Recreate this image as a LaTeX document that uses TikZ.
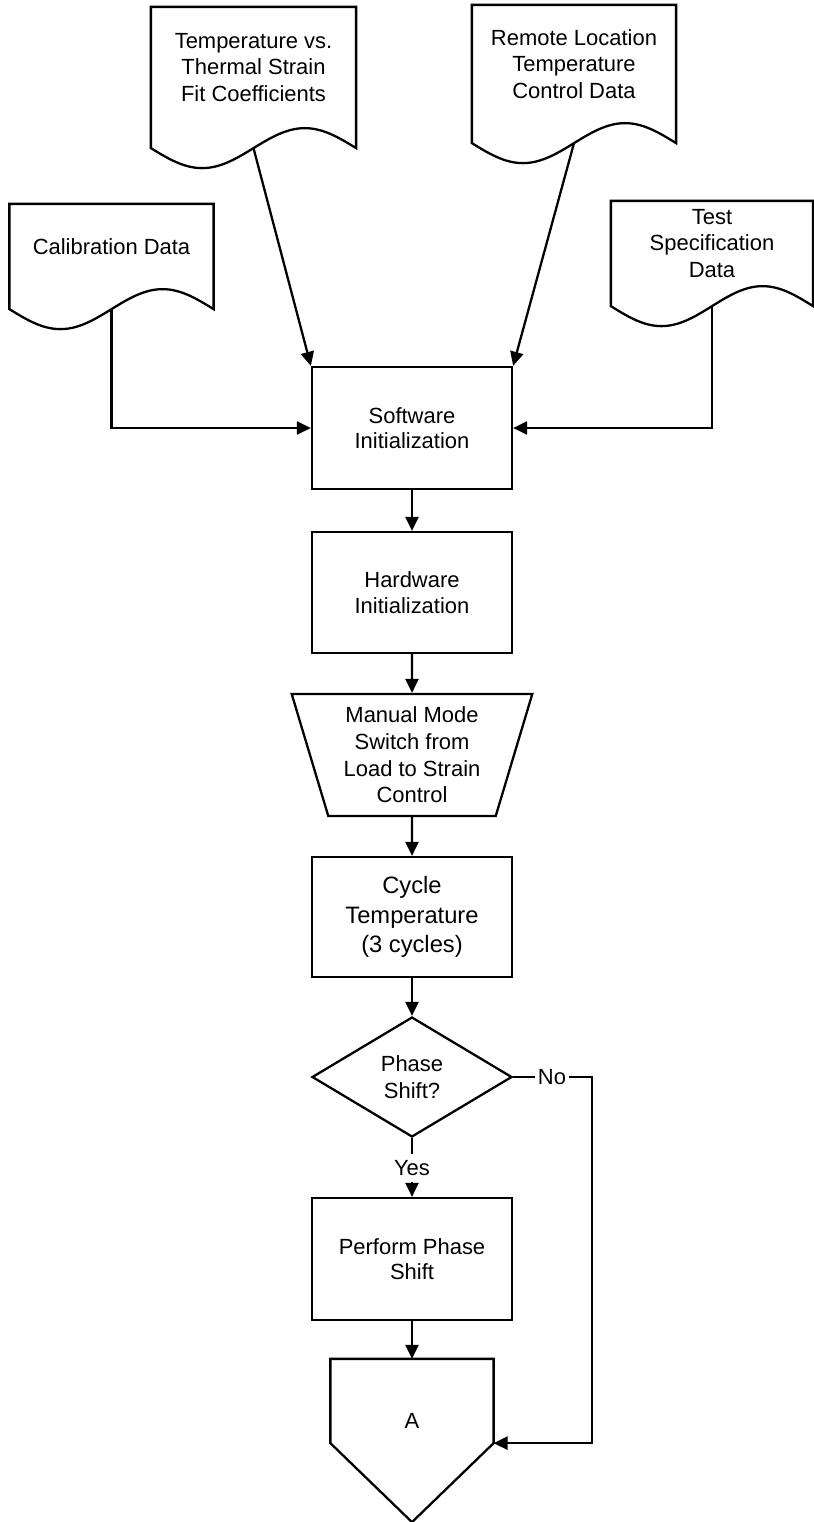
\documentclass[tikz,border=0pt]{standalone}
\usepackage{fontspec}
\setmainfont{Liberation Sans}
\usetikzlibrary{shapes.geometric,arrows.meta,calc}

\tikzset{
  flow/.style={-{Triangle[length=8pt,width=7.5pt]}},
  stepbox/.style={draw, minimum width=4cm, minimum height=2.44cm, align=center,
    font=\fontsize{12.5}{14.4}\selectfont},
  docshape/.style={minimum width=4.04cm, minimum height=#1, inner sep=0pt, align=center},
  manual/.style={draw, trapezium, shape border rotate=180, trapezium left angle=72,
    trapezium right angle=72, trapezium stretches=true, minimum width=4.82cm,
    minimum height=2.44cm, inner ysep=1pt, align=center},
  decision/.style={draw, diamond, aspect=1.667, minimum width=4cm, minimum height=2.4cm,
    inner sep=0pt, align=center},
  answer/.style={inner xsep=1pt, inner ysep=3pt},
}

% document symbol: box with a wavy lower edge round a named node
\newcommand{\docoutline}[1]{%
  \coordinate (#1 tail) at ([yshift=-0.4cm]#1.south);
  \draw (#1.north west) -- (#1.north east) -- ([yshift=-0.4cm]#1.south east)
    sin ($(#1.south east)!.5!(#1.south)$)
    cos (#1 tail)
    sin ([yshift=-0.8cm]$(#1.south west)!.5!(#1.south)$)
    cos ([yshift=-0.4cm]#1.south west) -- cycle;}

\begin{document}
\begin{tikzpicture}[x=0.02cm, y=-0.02cm, line width=1.3pt,
    font=\fontsize{12.5}{15.2}\selectfont]
  \fill[white] (0,0) rectangle (814,1522);
  \useasboundingbox (0,0) rectangle (814,1522);

  % input data
  \node[docshape=1.66cm] (calib) at (111.5,246.5) {Calibration Data};
  \node[docshape=2.38cm, minimum width=4.06cm] (fitcoef) at (253.5,67.5)
    {Temperature vs.\\Thermal Strain\\Fit Coefficients};
  \node[docshape=2.32cm] (remote) at (574,64) {Remote Location\\Temperature\\Control Data};
  \node[docshape=1.66cm, minimum width=4cm] (testspec) at (712,243.5)
    {Test\\Specification\\Data};
  \docoutline{calib}
  \docoutline{fitcoef}
  \docoutline{remote}
  \docoutline{testspec}

  % main column
  \node[stepbox] (softinit) at (412,428) {Software\\Initialization};
  \node[stepbox, minimum height=2.42cm] (hardinit) at (412,592.5) {Hardware\\Initialization};
  \node[manual] (manmode) at (412,755) {Manual Mode\\Switch from\\Load to Strain\\Control};
  \node[stepbox, minimum height=2.4cm, font=\fontsize{13.5}{16.8}\selectfont] (cycle)
    at (412,917) {Cycle\\Temperature\\(3 cycles)};
  \node[decision] (phase) at (412,1077) {Phase\\Shift?};
  \node[answer] (yes) at (412,1168) {Yes};
  \node[answer] (no) at (552,1077) {No};
  \node[stepbox] (perform) at (412,1259) {Perform Phase\\Shift};
  \node[minimum width=3.22cm, minimum height=2.44cm] (offpage) at (412,1421) {A};
  \draw (offpage.north west) -- (offpage.north east) -- ([yshift=0.8cm]offpage.south east)
    -- ([yshift=-0.78cm]offpage.south) -- ([yshift=0.8cm]offpage.south west) -- cycle;
  \coordinate (offpage entry) at ([yshift=0.8cm]offpage.south east);

  % connectors
  \draw[flow] (calib tail) |- (softinit.west);
  \draw[flow] (fitcoef tail) -- (softinit.north west);
  \draw[flow] (remote tail) -- (softinit.north east);
  \draw[flow] (testspec tail) |- (softinit.east);
  \draw[flow] (softinit) -- (hardinit);
  \draw[flow] (hardinit) -- (manmode);
  \draw[flow] (manmode) -- (cycle);
  \draw[flow] (cycle) -- (phase);
  \draw (phase.south) -- (yes);
  \draw[flow] (yes) -- (perform);
  \draw (phase.east) -- (no);
  \draw[flow] (no.east) -- ++(0.46cm,0) |- (offpage entry);
  \draw[flow] (perform) -- (offpage);
\end{tikzpicture}
\end{document}
